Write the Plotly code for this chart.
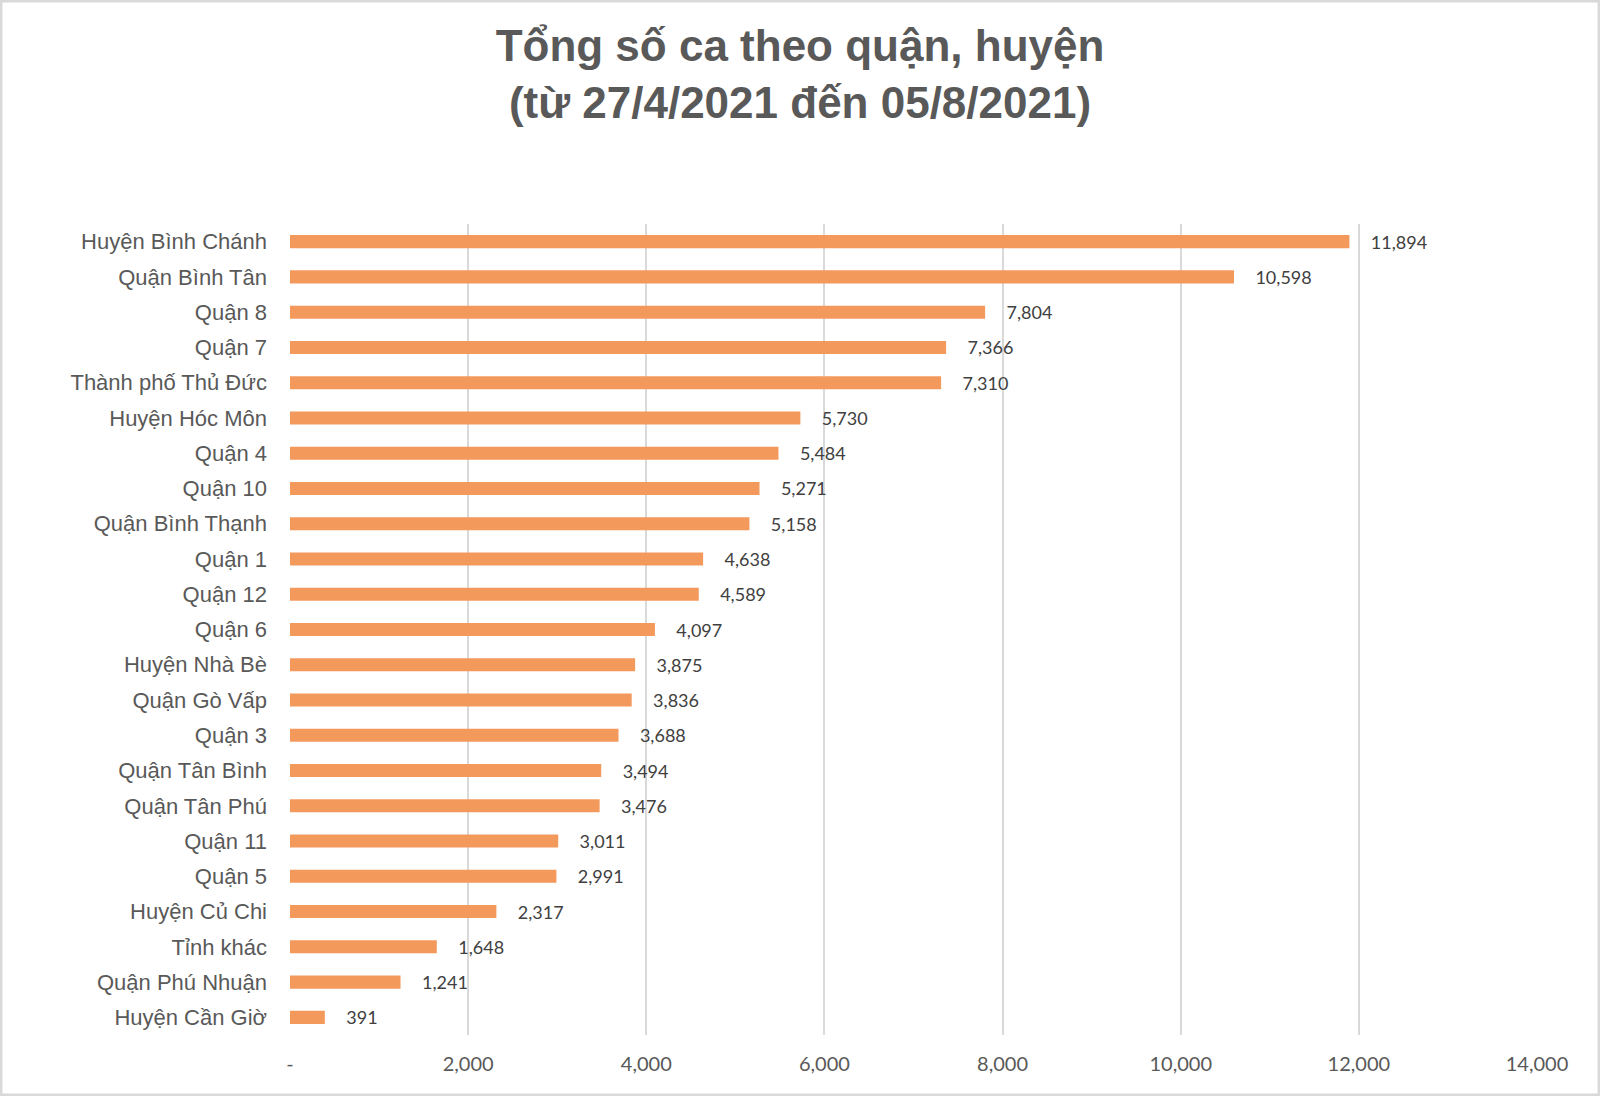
import plotly.graph_objects as go

categories = [
    "Huyện Bình Chánh", "Quận Bình Tân", "Quận 8", "Quận 7", "Thành phố Thủ Đức",
    "Huyện Hóc Môn", "Quận 4", "Quận 10", "Quận Bình Thạnh", "Quận 1", "Quận 12",
    "Quận 6", "Huyện Nhà Bè", "Quận Gò Vấp", "Quận 3", "Quận Tân Bình",
    "Quận Tân Phú", "Quận 11", "Quận 5", "Huyện Củ Chi", "Tỉnh khác",
    "Quận Phú Nhuận", "Huyện Cần Giờ",
]
cases = [
    11894, 10598, 7804, 7366, 7310, 5730, 5484, 5271, 5158, 4638, 4589,
    4097, 3875, 3836, 3688, 3494, 3476, 3011, 2991, 2317, 1648, 1241, 391,
]
tick_values = [0, 2000, 4000, 6000, 8000, 10000, 12000, 14000]
tick_labels = ["-", "2,000", "4,000", "6,000", "8,000", "10,000", "12,000", "14,000"]

W, H = 1600, 1096
L, R, T, B = 290, 63, 224, 61

fig = go.Figure()
fig.add_trace(go.Bar(
    x=cases,
    y=categories,
    orientation="h",
    marker=dict(color="#F4995C", line=dict(width=0)),
    width=0.37,
    text=cases,
    texttemplate="    %{x:,}",
    textposition="outside",
    constraintext="none",
    cliponaxis=False,
    textfont=dict(family="Lato, Open Sans, sans-serif", size=18, color="#404040"),
    hoverinfo="skip",
))

fig.update_layout(
    width=W, height=H,
    margin=dict(l=L, r=R, t=T, b=B),
    paper_bgcolor="white",
    plot_bgcolor="white",
    showlegend=False,
    title=dict(
        text="Tổng số ca theo quận, huyện<br>(từ 27/4/2021 đến 05/8/2021)",
        x=0.5, xanchor="center",
        y=1 - 61 / H, yanchor="middle",
        font=dict(family="Liberation Sans, Arial, sans-serif", size=44, color="#595959",
                  weight="bold"),
    ),
    xaxis=dict(
        range=[0, 14000],
        tickvals=tick_values,
        ticktext=tick_labels,
        showgrid=True,
        gridcolor="#D9D9D9",
        gridwidth=1.5,
        zeroline=False,
        showline=False,
        ticks="",
        ticklabelstandoff=15,
        tickfont=dict(family="Lato, Open Sans, sans-serif", size=20, color="#595959"),
        fixedrange=True,
    ),
    yaxis=dict(
        autorange="reversed",
        showgrid=False,
        zeroline=False,
        showline=False,
        ticks="",
        ticklabelstandoff=22,
        tickfont=dict(family="Liberation Sans, Arial, sans-serif", size=22, color="#595959"),
        fixedrange=True,
    ),
    shapes=[
        dict(
            type="rect", xref="paper", yref="paper",
            x0=-(L - 1.2) / (W - L - R), x1=1 + (R - 1.2) / (W - L - R),
            y0=-(B - 1.2) / (H - T - B), y1=1 + (T - 1.2) / (H - T - B),
            line=dict(color="#D9D9D9", width=2.5),
            fillcolor="rgba(0,0,0,0)",
            layer="above",
        )
    ],
)

fig.write_html(
    "out.html",
    config={"displayModeBar": False},
    post_script="document.body.style.margin='0';document.body.style.overflow='hidden';",
)
